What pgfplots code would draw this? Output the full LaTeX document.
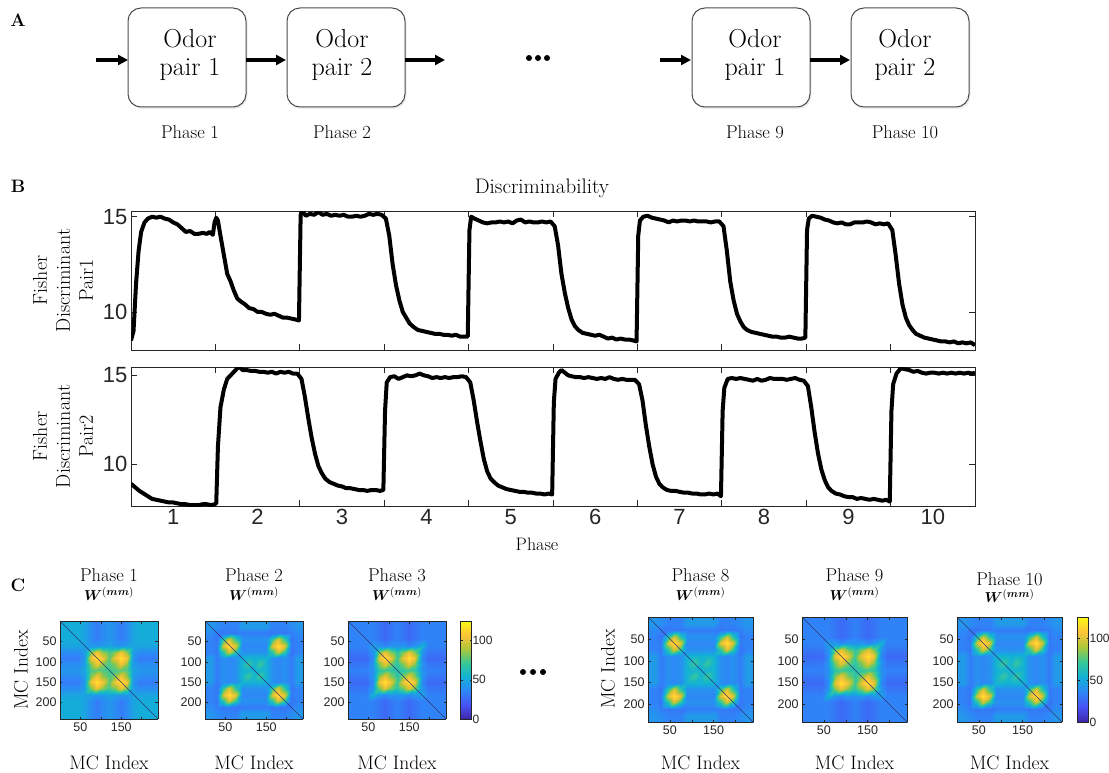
\documentclass[border=0pt]{standalone}
\usepackage{fontspec}
\usepackage{amsmath}
\usepackage{bm}
\usepackage{pgfplots}
\usepackage{pgfplotstable}
\pgfplotsset{compat=1.18}
\usetikzlibrary{arrows.meta,shadows}

\newfontfamily\numfont{Liberation Sans}
\newcommand{\fsz}[2]{\fontsize{#1}{#2}\selectfont}
\definecolor{axgray}{rgb}{0.15,0.15,0.15}
\definecolor{boxgray}{rgb}{0.3,0.3,0.3}
\definecolor{diagc}{rgb}{0.18,0.22,0.45}

\pgfplotsset{
  colormap={parula}{rgb=(0.2422,0.1504,0.6603) rgb=(0.2810,0.3228,0.9579)
    rgb=(0.1786,0.5289,0.9682) rgb=(0.0689,0.6948,0.8394) rgb=(0.2161,0.7843,0.5923)
    rgb=(0.6720,0.7793,0.2227) rgb=(0.9970,0.7659,0.2199) rgb=(0.9769,0.9839,0.0805)},
  /pgf/number format/assume math mode=true,
  fisher/.style={
    scale only axis, width=844pt, height=139pt,
    xmin=0.5, xmax=10.5,
    tick align=inside,
    major tick length=0pt, minor tick length=6pt,
    xtick={1,...,10},
    minor xtick={1.5,2.5,...,9.5},
    ytick={10,15}, minor ytick={10,15},
    tick label style={font=\numfont\fsz{22}{24}, color=axgray},
    axis line style={draw=axgray, line width=0.8pt},
    every tick/.append style={draw=axgray, line width=0.8pt},
  },
  hm/.style={
    scale only axis, width=#1, height=#1,
    view={0}{90},
    xmin=0, xmax=240, ymin=0, ymax=240, y dir=reverse,
    ztick=\empty,
    colormap name=parula, point meta min=0, point meta max=125,
    xtick={50,100,150,200}, xticklabels={50,,150,},
    ytick={50,100,150,200},
    tick align=inside, major tick length=2.5pt,
    tick label style={font=\numfont\fsz{12.5}{14}, color=axgray},
    axis line style={draw=axgray, line width=0.8pt},
    every tick/.append style={draw=axgray, line width=0.5pt},
    axis on top,
  },
  hmbar/.style={
    colorbar,
    colorbar style={
      at={(parent axis.north east)}, anchor=north west, xshift=#1,
      width=11pt,
      ytick={0,50,100},
      tick align=inside, major tick length=2pt,
      yticklabel style={font=\numfont\fsz{12}{14}, color=axgray, xshift=-2.5pt},
      axis line style={draw=axgray, line width=0.6pt},
    },
  },
}

% Fisher discriminant of odor pair 1 over the ten phases
\pgfplotstableread{
x y
0.50 8.5
0.53 9.0
0.56 11.5
0.59 13.2
0.62 14.2
0.66 14.7
0.70 14.9
0.75 15.0
0.80 14.95
0.85 15.0
0.90 14.9
0.95 14.85
1.00 14.7
1.05 14.6
1.10 14.4
1.15 14.2
1.20 14.25
1.25 14.1
1.30 14.1
1.35 14.15
1.40 14.1
1.43 14.2
1.47 14.05
1.49 14.7
1.51 14.95
1.53 14.8
1.56 14.0
1.60 13.0
1.64 12.0
1.68 11.6
1.72 11.1
1.76 10.7
1.80 10.55
1.85 10.4
1.90 10.2
1.95 10.15
2.00 10.0
2.05 10.0
2.10 9.9
2.15 9.85
2.20 9.9
2.25 9.8
2.30 9.7
2.35 9.7
2.40 9.65
2.45 9.6
2.49 9.55
2.51 15.1
2.53 15.3
2.57 15.05
2.62 15.15
2.67 15.1
2.72 15.25
2.77 15.1
2.82 15.15
2.87 15.05
2.92 15.1
2.97 15.05
3.02 15.1
3.07 15.0
3.12 15.0
3.17 15.05
3.22 15.0
3.27 15.05
3.32 15.15
3.37 15.1
3.42 15.15
3.47 15.1
3.52 14.9
3.56 14.0
3.60 12.5
3.64 11.4
3.68 10.6
3.72 10.0
3.76 9.7
3.80 9.4
3.85 9.2
3.90 9.05
3.95 9.0
4.00 8.95
4.05 8.9
4.10 8.85
4.15 8.85
4.20 8.8
4.25 8.8
4.30 8.75
4.35 8.8
4.40 8.7
4.45 8.7
4.49 8.7
4.51 14.3
4.53 15.0
4.57 14.9
4.62 14.8
4.67 14.7
4.72 14.65
4.77 14.7
4.82 14.7
4.87 14.75
4.92 14.7
4.97 14.75
5.02 14.65
5.07 14.8
5.12 14.85
5.17 14.7
5.22 14.75
5.27 14.7
5.32 14.7
5.37 14.75
5.42 14.7
5.47 14.75
5.52 14.5
5.56 13.5
5.60 12.0
5.64 11.0
5.68 10.2
5.72 9.6
5.76 9.25
5.80 9.05
5.85 8.9
5.90 8.85
5.95 8.8
6.00 8.75
6.05 8.8
6.10 8.7
6.15 8.6
6.20 8.65
6.25 8.55
6.30 8.6
6.35 8.55
6.40 8.55
6.45 8.5
6.49 8.45
6.51 14.0
6.53 14.8
6.57 15.0
6.62 15.05
6.67 14.95
6.72 14.9
6.77 14.85
6.82 14.8
6.87 14.7
6.92 14.8
6.97 14.75
7.02 14.8
7.07 14.8
7.12 14.75
7.17 14.8
7.22 14.75
7.27 14.75
7.32 14.75
7.37 14.7
7.42 14.75
7.47 14.75
7.52 14.5
7.56 13.2
7.60 11.6
7.64 10.6
7.68 9.9
7.72 9.5
7.76 9.2
7.80 9.05
7.85 8.95
7.90 8.9
7.95 8.85
8.00 8.8
8.05 8.75
8.10 8.7
8.15 8.7
8.20 8.65
8.25 8.65
8.30 8.7
8.35 8.65
8.40 8.6
8.45 8.6
8.49 8.65
8.51 14.3
8.53 14.9
8.57 15.05
8.62 15.0
8.67 14.95
8.72 14.85
8.77 14.8
8.82 14.7
8.87 14.65
8.92 14.7
8.97 14.6
9.02 14.6
9.07 14.7
9.12 14.7
9.17 14.7
9.22 14.75
9.27 14.7
9.32 14.6
9.37 14.65
9.42 14.6
9.47 14.65
9.52 14.3
9.56 13.0
9.60 11.5
9.64 10.4
9.68 9.7
9.72 9.3
9.76 9.05
9.80 8.85
9.85 8.75
9.90 8.65
9.95 8.6
10.00 8.55
10.05 8.5
10.10 8.45
10.15 8.45
10.20 8.4
10.25 8.45
10.30 8.35
10.35 8.4
10.40 8.35
10.45 8.4
10.50 8.25
}\pairone

% Fisher discriminant of odor pair 2 over the ten phases
\pgfplotstableread{
x y
0.50 8.9
0.55 8.7
0.60 8.5
0.65 8.35
0.70 8.2
0.75 8.05
0.80 8.0
0.85 7.95
0.90 7.9
0.95 7.85
1.00 7.85
1.05 7.8
1.10 7.75
1.15 7.75
1.20 7.7
1.25 7.7
1.30 7.7
1.35 7.75
1.40 7.75
1.45 7.7
1.49 7.75
1.51 7.8
1.53 11.0
1.56 13.2
1.60 14.2
1.64 14.8
1.68 15.0
1.72 15.2
1.76 15.4
1.78 15.5
1.82 15.3
1.87 15.3
1.92 15.25
1.97 15.25
2.02 15.2
2.07 15.2
2.12 15.15
2.17 15.2
2.22 15.1
2.27 15.2
2.32 15.15
2.37 15.2
2.42 15.1
2.47 15.1
2.52 14.8
2.56 13.8
2.60 12.6
2.64 11.5
2.68 10.6
2.72 9.9
2.76 9.5
2.80 9.2
2.85 9.0
2.90 8.9
2.95 8.8
3.00 8.75
3.05 8.65
3.10 8.65
3.15 8.6
3.20 8.55
3.25 8.55
3.30 8.5
3.35 8.55
3.40 8.55
3.45 8.5
3.49 8.55
3.51 13.0
3.53 14.6
3.57 14.9
3.62 14.95
3.67 14.8
3.72 14.9
3.77 15.0
3.82 14.95
3.87 15.0
3.92 15.1
3.97 15.0
4.02 14.95
4.07 14.85
4.12 14.9
4.17 14.85
4.22 14.9
4.27 14.85
4.32 14.9
4.37 14.9
4.42 14.95
4.47 14.9
4.52 14.6
4.56 13.6
4.60 12.4
4.64 11.3
4.68 10.3
4.72 9.6
4.76 9.2
4.80 9.0
4.85 8.8
4.90 8.7
4.95 8.6
5.00 8.55
5.05 8.5
5.10 8.45
5.15 8.45
5.20 8.4
5.25 8.4
5.30 8.35
5.35 8.35
5.40 8.3
5.45 8.35
5.49 8.3
5.51 13.5
5.53 14.8
5.57 15.15
5.60 15.3
5.64 15.15
5.68 15.0
5.72 14.95
5.77 14.9
5.82 14.9
5.87 14.85
5.92 14.9
5.97 14.85
6.02 14.8
6.07 14.85
6.12 14.8
6.17 14.9
6.22 14.8
6.27 14.75
6.32 14.8
6.37 14.75
6.42 14.75
6.47 14.75
6.52 14.5
6.56 13.6
6.60 12.2
6.64 11.0
6.68 10.0
6.72 9.3
6.76 8.9
6.80 8.7
6.85 8.55
6.90 8.5
6.95 8.5
7.00 8.45
7.05 8.4
7.10 8.4
7.15 8.35
7.20 8.35
7.25 8.3
7.30 8.3
7.35 8.35
7.40 8.3
7.45 8.35
7.49 8.2
7.51 13.0
7.53 14.3
7.57 14.8
7.62 14.85
7.67 14.8
7.72 14.85
7.77 14.8
7.82 14.75
7.87 14.7
7.92 14.8
7.97 14.7
8.02 14.75
8.07 14.85
8.12 14.8
8.17 14.8
8.22 14.8
8.27 14.75
8.32 14.8
8.37 14.85
8.42 14.75
8.47 14.7
8.52 14.4
8.56 13.2
8.60 11.8
8.64 10.6
8.68 9.7
8.72 9.1
8.76 8.7
8.80 8.5
8.85 8.35
8.90 8.3
8.95 8.2
9.00 8.15
9.05 8.15
9.10 8.05
9.15 8.1
9.20 8.05
9.25 8.0
9.30 8.05
9.35 8.0
9.40 7.95
9.45 8.0
9.49 7.9
9.51 13.0
9.53 14.5
9.57 15.1
9.62 15.4
9.67 15.35
9.72 15.3
9.77 15.2
9.82 15.25
9.87 15.15
9.92 15.1
9.97 15.15
10.02 15.15
10.07 15.1
10.12 15.15
10.17 15.1
10.22 15.15
10.27 15.1
10.32 15.15
10.37 15.1
10.42 15.15
10.47 15.1
10.50 15.15
}\pairtwo

% W^(mm) weights, sampled every 15 mitral cells (phase 1)
\pgfplotstableread[row sep=\\]{
x y c\\
0 0 52\\ 15 0 52\\ 30 0 52\\ 45 0 52\\ 60 0 48\\ 75 0 38\\ 90 0 32\\ 105 0 38\\ 120 0 42\\ 135 0 38\\ 150 0 32\\ 165 0 38\\ 180 0 48\\ 195 0 52\\ 210 0 52\\ 225 0 52\\ 240 0 52\\
0 15 52\\ 15 15 52\\ 30 15 52\\ 45 15 52\\ 60 15 48\\ 75 15 38\\ 90 15 32\\ 105 15 38\\ 120 15 42\\ 135 15 38\\ 150 15 32\\ 165 15 38\\ 180 15 48\\ 195 15 52\\ 210 15 52\\ 225 15 52\\ 240 15 52\\
0 30 52\\ 15 30 52\\ 30 30 52\\ 45 30 52\\ 60 30 48\\ 75 30 38\\ 90 30 32\\ 105 30 38\\ 120 30 42\\ 135 30 38\\ 150 30 32\\ 165 30 38\\ 180 30 48\\ 195 30 52\\ 210 30 52\\ 225 30 52\\ 240 30 52\\
0 45 52\\ 15 45 52\\ 30 45 52\\ 45 45 52\\ 60 45 48\\ 75 45 38\\ 90 45 32\\ 105 45 38\\ 120 45 42\\ 135 45 38\\ 150 45 32\\ 165 45 38\\ 180 45 48\\ 195 45 52\\ 210 45 52\\ 225 45 52\\ 240 45 52\\
0 60 48\\ 15 60 48\\ 30 60 48\\ 45 60 48\\ 60 60 48\\ 75 60 44\\ 90 60 42\\ 105 60 44\\ 120 60 48\\ 135 60 44\\ 150 60 42\\ 165 60 44\\ 180 60 48\\ 195 60 48\\ 210 60 48\\ 225 60 48\\ 240 60 48\\
0 75 38\\ 15 75 38\\ 30 75 38\\ 45 75 38\\ 60 75 44\\ 75 75 84\\ 90 75 104\\ 105 75 84\\ 120 75 74\\ 135 75 84\\ 150 75 104\\ 165 75 84\\ 180 75 44\\ 195 75 38\\ 210 75 38\\ 225 75 38\\ 240 75 38\\
0 90 32\\ 15 90 32\\ 30 90 32\\ 45 90 32\\ 60 90 42\\ 75 90 104\\ 90 90 118\\ 105 90 104\\ 120 90 78\\ 135 90 104\\ 150 90 118\\ 165 90 104\\ 180 90 42\\ 195 90 32\\ 210 90 32\\ 225 90 32\\ 240 90 32\\
0 105 38\\ 15 105 38\\ 30 105 38\\ 45 105 38\\ 60 105 44\\ 75 105 84\\ 90 105 104\\ 105 105 84\\ 120 105 74\\ 135 105 84\\ 150 105 104\\ 165 105 84\\ 180 105 44\\ 195 105 38\\ 210 105 38\\ 225 105 38\\ 240 105 38\\
0 120 42\\ 15 120 42\\ 30 120 42\\ 45 120 42\\ 60 120 48\\ 75 120 74\\ 90 120 78\\ 105 120 74\\ 120 120 72\\ 135 120 74\\ 150 120 78\\ 165 120 74\\ 180 120 48\\ 195 120 42\\ 210 120 42\\ 225 120 42\\ 240 120 42\\
0 135 38\\ 15 135 38\\ 30 135 38\\ 45 135 38\\ 60 135 44\\ 75 135 84\\ 90 135 104\\ 105 135 84\\ 120 135 74\\ 135 135 84\\ 150 135 104\\ 165 135 84\\ 180 135 44\\ 195 135 38\\ 210 135 38\\ 225 135 38\\ 240 135 38\\
0 150 32\\ 15 150 32\\ 30 150 32\\ 45 150 32\\ 60 150 42\\ 75 150 104\\ 90 150 118\\ 105 150 104\\ 120 150 78\\ 135 150 104\\ 150 150 118\\ 165 150 104\\ 180 150 42\\ 195 150 32\\ 210 150 32\\ 225 150 32\\ 240 150 32\\
0 165 38\\ 15 165 38\\ 30 165 38\\ 45 165 38\\ 60 165 44\\ 75 165 84\\ 90 165 104\\ 105 165 84\\ 120 165 74\\ 135 165 84\\ 150 165 104\\ 165 165 84\\ 180 165 44\\ 195 165 38\\ 210 165 38\\ 225 165 38\\ 240 165 38\\
0 180 48\\ 15 180 48\\ 30 180 48\\ 45 180 48\\ 60 180 48\\ 75 180 44\\ 90 180 42\\ 105 180 44\\ 120 180 48\\ 135 180 44\\ 150 180 42\\ 165 180 44\\ 180 180 48\\ 195 180 48\\ 210 180 48\\ 225 180 48\\ 240 180 48\\
0 195 52\\ 15 195 52\\ 30 195 52\\ 45 195 52\\ 60 195 48\\ 75 195 38\\ 90 195 32\\ 105 195 38\\ 120 195 42\\ 135 195 38\\ 150 195 32\\ 165 195 38\\ 180 195 48\\ 195 195 52\\ 210 195 52\\ 225 195 52\\ 240 195 52\\
0 210 52\\ 15 210 52\\ 30 210 52\\ 45 210 52\\ 60 210 48\\ 75 210 38\\ 90 210 32\\ 105 210 38\\ 120 210 42\\ 135 210 38\\ 150 210 32\\ 165 210 38\\ 180 210 48\\ 195 210 52\\ 210 210 52\\ 225 210 52\\ 240 210 52\\
0 225 52\\ 15 225 52\\ 30 225 52\\ 45 225 52\\ 60 225 48\\ 75 225 38\\ 90 225 32\\ 105 225 38\\ 120 225 42\\ 135 225 38\\ 150 225 32\\ 165 225 38\\ 180 225 48\\ 195 225 52\\ 210 225 52\\ 225 225 52\\ 240 225 52\\
0 240 52\\ 15 240 52\\ 30 240 52\\ 45 240 52\\ 60 240 48\\ 75 240 38\\ 90 240 32\\ 105 240 38\\ 120 240 42\\ 135 240 38\\ 150 240 32\\ 165 240 38\\ 180 240 48\\ 195 240 52\\ 210 240 52\\ 225 240 52\\ 240 240 52\\
}\wone

% W^(mm) weights after learning odor pair 2 (phases 2, 8, 10)
\pgfplotstableread[row sep=\\]{
x y c\\
0 0 42\\ 15 0 42\\ 30 0 38\\ 45 0 34\\ 60 0 34\\ 75 0 34\\ 90 0 44\\ 105 0 44\\ 120 0 44\\ 135 0 44\\ 150 0 44\\ 165 0 34\\ 180 0 34\\ 195 0 34\\ 210 0 38\\ 225 0 42\\ 240 0 42\\
0 15 42\\ 15 15 42\\ 30 15 38\\ 45 15 34\\ 60 15 34\\ 75 15 34\\ 90 15 44\\ 105 15 44\\ 120 15 44\\ 135 15 44\\ 150 15 44\\ 165 15 34\\ 180 15 34\\ 195 15 34\\ 210 15 38\\ 225 15 42\\ 240 15 42\\
0 30 38\\ 15 30 38\\ 30 30 32\\ 45 30 30\\ 60 30 32\\ 75 30 30\\ 90 30 32\\ 105 30 32\\ 120 30 32\\ 135 30 32\\ 150 30 32\\ 165 30 30\\ 180 30 32\\ 195 30 30\\ 210 30 32\\ 225 30 38\\ 240 30 38\\
0 45 34\\ 15 45 34\\ 30 45 30\\ 45 45 66\\ 60 45 98\\ 75 45 66\\ 90 45 40\\ 105 45 40\\ 120 45 40\\ 135 45 40\\ 150 45 40\\ 165 45 66\\ 180 45 98\\ 195 45 66\\ 210 45 30\\ 225 45 34\\ 240 45 34\\
0 60 34\\ 15 60 34\\ 30 60 32\\ 45 60 98\\ 60 60 118\\ 75 60 98\\ 90 60 36\\ 105 60 36\\ 120 60 36\\ 135 60 36\\ 150 60 36\\ 165 60 98\\ 180 60 118\\ 195 60 98\\ 210 60 32\\ 225 60 34\\ 240 60 34\\
0 75 34\\ 15 75 34\\ 30 75 30\\ 45 75 66\\ 60 75 98\\ 75 75 66\\ 90 75 40\\ 105 75 40\\ 120 75 40\\ 135 75 40\\ 150 75 40\\ 165 75 66\\ 180 75 98\\ 195 75 66\\ 210 75 30\\ 225 75 34\\ 240 75 34\\
0 90 44\\ 15 90 44\\ 30 90 32\\ 45 90 40\\ 60 90 36\\ 75 90 40\\ 90 90 54\\ 105 90 56\\ 120 90 54\\ 135 90 56\\ 150 90 54\\ 165 90 40\\ 180 90 36\\ 195 90 40\\ 210 90 32\\ 225 90 44\\ 240 90 44\\
0 105 44\\ 15 105 44\\ 30 105 32\\ 45 105 40\\ 60 105 36\\ 75 105 40\\ 90 105 56\\ 105 105 70\\ 120 105 56\\ 135 105 70\\ 150 105 56\\ 165 105 40\\ 180 105 36\\ 195 105 40\\ 210 105 32\\ 225 105 44\\ 240 105 44\\
0 120 44\\ 15 120 44\\ 30 120 32\\ 45 120 40\\ 60 120 36\\ 75 120 40\\ 90 120 54\\ 105 120 56\\ 120 120 54\\ 135 120 56\\ 150 120 54\\ 165 120 40\\ 180 120 36\\ 195 120 40\\ 210 120 32\\ 225 120 44\\ 240 120 44\\
0 135 44\\ 15 135 44\\ 30 135 32\\ 45 135 40\\ 60 135 36\\ 75 135 40\\ 90 135 56\\ 105 135 70\\ 120 135 56\\ 135 135 70\\ 150 135 56\\ 165 135 40\\ 180 135 36\\ 195 135 40\\ 210 135 32\\ 225 135 44\\ 240 135 44\\
0 150 44\\ 15 150 44\\ 30 150 32\\ 45 150 40\\ 60 150 36\\ 75 150 40\\ 90 150 54\\ 105 150 56\\ 120 150 54\\ 135 150 56\\ 150 150 54\\ 165 150 40\\ 180 150 36\\ 195 150 40\\ 210 150 32\\ 225 150 44\\ 240 150 44\\
0 165 34\\ 15 165 34\\ 30 165 30\\ 45 165 66\\ 60 165 98\\ 75 165 66\\ 90 165 40\\ 105 165 40\\ 120 165 40\\ 135 165 40\\ 150 165 40\\ 165 165 66\\ 180 165 98\\ 195 165 66\\ 210 165 30\\ 225 165 34\\ 240 165 34\\
0 180 34\\ 15 180 34\\ 30 180 32\\ 45 180 98\\ 60 180 118\\ 75 180 98\\ 90 180 36\\ 105 180 36\\ 120 180 36\\ 135 180 36\\ 150 180 36\\ 165 180 98\\ 180 180 118\\ 195 180 98\\ 210 180 32\\ 225 180 34\\ 240 180 34\\
0 195 34\\ 15 195 34\\ 30 195 30\\ 45 195 66\\ 60 195 98\\ 75 195 66\\ 90 195 40\\ 105 195 40\\ 120 195 40\\ 135 195 40\\ 150 195 40\\ 165 195 66\\ 180 195 98\\ 195 195 66\\ 210 195 30\\ 225 195 34\\ 240 195 34\\
0 210 38\\ 15 210 38\\ 30 210 32\\ 45 210 30\\ 60 210 32\\ 75 210 30\\ 90 210 32\\ 105 210 32\\ 120 210 32\\ 135 210 32\\ 150 210 32\\ 165 210 30\\ 180 210 32\\ 195 210 30\\ 210 210 32\\ 225 210 38\\ 240 210 38\\
0 225 42\\ 15 225 42\\ 30 225 38\\ 45 225 34\\ 60 225 34\\ 75 225 34\\ 90 225 44\\ 105 225 44\\ 120 225 44\\ 135 225 44\\ 150 225 44\\ 165 225 34\\ 180 225 34\\ 195 225 34\\ 210 225 38\\ 225 225 42\\ 240 225 42\\
0 240 42\\ 15 240 42\\ 30 240 38\\ 45 240 34\\ 60 240 34\\ 75 240 34\\ 90 240 44\\ 105 240 44\\ 120 240 44\\ 135 240 44\\ 150 240 44\\ 165 240 34\\ 180 240 34\\ 195 240 34\\ 210 240 38\\ 225 240 42\\ 240 240 42\\
}\wtwo

% W^(mm) weights after relearning odor pair 1 (phases 3, 9)
\pgfplotstableread[row sep=\\]{
x y c\\
0 0 34\\ 15 0 34\\ 30 0 34\\ 45 0 34\\ 60 0 34\\ 75 0 30\\ 90 0 26\\ 105 0 30\\ 120 0 34\\ 135 0 30\\ 150 0 26\\ 165 0 30\\ 180 0 34\\ 195 0 34\\ 210 0 34\\ 225 0 34\\ 240 0 34\\
0 15 34\\ 15 15 34\\ 30 15 34\\ 45 15 34\\ 60 15 34\\ 75 15 30\\ 90 15 26\\ 105 15 30\\ 120 15 34\\ 135 15 30\\ 150 15 26\\ 165 15 30\\ 180 15 34\\ 195 15 34\\ 210 15 34\\ 225 15 34\\ 240 15 34\\
0 30 34\\ 15 30 34\\ 30 30 34\\ 45 30 34\\ 60 30 34\\ 75 30 30\\ 90 30 26\\ 105 30 30\\ 120 30 34\\ 135 30 30\\ 150 30 26\\ 165 30 30\\ 180 30 34\\ 195 30 34\\ 210 30 34\\ 225 30 34\\ 240 30 34\\
0 45 34\\ 15 45 34\\ 30 45 34\\ 45 45 34\\ 60 45 34\\ 75 45 30\\ 90 45 26\\ 105 45 30\\ 120 45 34\\ 135 45 30\\ 150 45 26\\ 165 45 30\\ 180 45 34\\ 195 45 34\\ 210 45 34\\ 225 45 34\\ 240 45 34\\
0 60 34\\ 15 60 34\\ 30 60 34\\ 45 60 34\\ 60 60 46\\ 75 60 42\\ 90 60 36\\ 105 60 42\\ 120 60 40\\ 135 60 42\\ 150 60 36\\ 165 60 42\\ 180 60 54\\ 195 60 34\\ 210 60 34\\ 225 60 34\\ 240 60 34\\
0 75 30\\ 15 75 30\\ 30 75 30\\ 45 75 30\\ 60 75 42\\ 75 75 82\\ 90 75 102\\ 105 75 82\\ 120 75 68\\ 135 75 82\\ 150 75 102\\ 165 75 82\\ 180 75 42\\ 195 75 30\\ 210 75 30\\ 225 75 30\\ 240 75 30\\
0 90 26\\ 15 90 26\\ 30 90 26\\ 45 90 26\\ 60 90 36\\ 75 90 102\\ 90 90 118\\ 105 90 102\\ 120 90 72\\ 135 90 102\\ 150 90 118\\ 165 90 102\\ 180 90 36\\ 195 90 26\\ 210 90 26\\ 225 90 26\\ 240 90 26\\
0 105 30\\ 15 105 30\\ 30 105 30\\ 45 105 30\\ 60 105 42\\ 75 105 82\\ 90 105 102\\ 105 105 82\\ 120 105 68\\ 135 105 82\\ 150 105 102\\ 165 105 82\\ 180 105 42\\ 195 105 30\\ 210 105 30\\ 225 105 30\\ 240 105 30\\
0 120 34\\ 15 120 34\\ 30 120 34\\ 45 120 34\\ 60 120 40\\ 75 120 68\\ 90 120 72\\ 105 120 68\\ 120 120 66\\ 135 120 68\\ 150 120 72\\ 165 120 68\\ 180 120 40\\ 195 120 34\\ 210 120 34\\ 225 120 34\\ 240 120 34\\
0 135 30\\ 15 135 30\\ 30 135 30\\ 45 135 30\\ 60 135 42\\ 75 135 82\\ 90 135 102\\ 105 135 82\\ 120 135 68\\ 135 135 82\\ 150 135 102\\ 165 135 82\\ 180 135 42\\ 195 135 30\\ 210 135 30\\ 225 135 30\\ 240 135 30\\
0 150 26\\ 15 150 26\\ 30 150 26\\ 45 150 26\\ 60 150 36\\ 75 150 102\\ 90 150 118\\ 105 150 102\\ 120 150 72\\ 135 150 102\\ 150 150 118\\ 165 150 102\\ 180 150 36\\ 195 150 26\\ 210 150 26\\ 225 150 26\\ 240 150 26\\
0 165 30\\ 15 165 30\\ 30 165 30\\ 45 165 30\\ 60 165 42\\ 75 165 82\\ 90 165 102\\ 105 165 82\\ 120 165 68\\ 135 165 82\\ 150 165 102\\ 165 165 82\\ 180 165 42\\ 195 165 30\\ 210 165 30\\ 225 165 30\\ 240 165 30\\
0 180 34\\ 15 180 34\\ 30 180 34\\ 45 180 34\\ 60 180 54\\ 75 180 42\\ 90 180 36\\ 105 180 42\\ 120 180 40\\ 135 180 42\\ 150 180 36\\ 165 180 42\\ 180 180 46\\ 195 180 34\\ 210 180 34\\ 225 180 34\\ 240 180 34\\
0 195 34\\ 15 195 34\\ 30 195 34\\ 45 195 34\\ 60 195 34\\ 75 195 30\\ 90 195 26\\ 105 195 30\\ 120 195 34\\ 135 195 30\\ 150 195 26\\ 165 195 30\\ 180 195 34\\ 195 195 34\\ 210 195 34\\ 225 195 34\\ 240 195 34\\
0 210 34\\ 15 210 34\\ 30 210 34\\ 45 210 34\\ 60 210 34\\ 75 210 30\\ 90 210 26\\ 105 210 30\\ 120 210 34\\ 135 210 30\\ 150 210 26\\ 165 210 30\\ 180 210 34\\ 195 210 34\\ 210 210 34\\ 225 210 34\\ 240 210 34\\
0 225 34\\ 15 225 34\\ 30 225 34\\ 45 225 34\\ 60 225 34\\ 75 225 30\\ 90 225 26\\ 105 225 30\\ 120 225 34\\ 135 225 30\\ 150 225 26\\ 165 225 30\\ 180 225 34\\ 195 225 34\\ 210 225 34\\ 225 225 34\\ 240 225 34\\
0 240 34\\ 15 240 34\\ 30 240 34\\ 45 240 34\\ 60 240 34\\ 75 240 30\\ 90 240 26\\ 105 240 30\\ 120 240 34\\ 135 240 30\\ 150 240 26\\ 165 240 30\\ 180 240 34\\ 195 240 34\\ 210 240 34\\ 225 240 34\\ 240 240 34\\
}\wthree

\tikzset{
  obox/.style={draw=boxgray, line width=1pt, rounded corners=13pt, fill=white,
    minimum width=118pt, minimum height=99pt, inner sep=0pt,
    drop shadow={shadow xshift=1.5pt, shadow yshift=-2pt, opacity=0.15}},
  otext/.style={align=center, font=\fsz{26}{28}},
  flow/.style={-{Triangle[length=10pt,width=10pt]}, line width=3.2pt},
  panel/.style={font=\bfseries\fsz{18}{20}},
}

\newcommand{\wmm}{$\bm{W}^{(\bm{mm})}$}

\begin{document}
\begin{tikzpicture}
\useasboundingbox (0pt,0pt) rectangle (1109pt,-773pt);

% ---------- A: training schedule ----------
\node[panel] at (18pt,-20pt) {A};
\foreach \cx/\tx/\lbl/\ph in {187/190/1/1, 346/342/2/2, 751/755/1/9, 910/905/2/10}{
  \node[obox] at (\cx pt,-57.5pt) {};
  \node[otext] at (\tx pt,-55pt) {Odor\\pair \lbl};
  \node[font=\fsz{18.5}{20}] at (\tx pt,-132pt) {Phase \ph};
}
\draw[flow] (96pt,-60pt) -- (128pt,-60pt);
\draw[flow] (246pt,-60pt) -- (286pt,-60pt);
\draw[flow] (405pt,-60pt) -- (445pt,-60pt);
\draw[flow] (660pt,-60pt) -- (691pt,-60pt);
\draw[flow] (810pt,-60pt) -- (850pt,-60pt);
\foreach \dx in {529,538,547} \fill (\dx pt,-58pt) circle (3pt);

% ---------- B: discriminability ----------
\node[panel] at (18pt,-186pt) {B};
\node[font=\fsz{21}{23}] at (542pt,-188pt) {Discriminability};

\begin{axis}[fisher, at={(131pt,-211pt)}, anchor=north west,
  ymin=8, ymax=15.3, xticklabels={}]
  \addplot[black, no marks, line width=4pt, line join=round] table[x=x,y=y] {\pairone};
\end{axis}
\node[rotate=90, align=center, font=\fsz{20}{23}] at (63pt,-280.5pt) {Fisher\\Discriminant\\Pair1};

\begin{axis}[fisher, at={(131pt,-367pt)}, anchor=north west,
  ymin=7.65, ymax=15.47]
  \addplot[black, no marks, line width=4pt, line join=round] table[x=x,y=y] {\pairtwo};
\end{axis}
\node[rotate=90, align=center, font=\fsz{20}{23}] at (63pt,-436.5pt) {Fisher\\Discriminant\\Pair2};
\node[font=\fsz{18}{20}] at (537pt,-544pt) {Phase};

% ---------- C: mitral-mitral weights ----------
\node[panel] at (18pt,-585pt) {C};

\begin{axis}[hm=98pt, at={(60pt,-621pt)}, anchor=north west]
  \addplot3[surf, shader=interp, mesh/cols=17] table[x=x,y=y,z=c] {\wone};
  \addplot3[diagc, no marks, line width=0.6pt] coordinates {(0,0,130) (240,240,130)};
\end{axis}
\begin{axis}[hm=98pt, at={(205pt,-621pt)}, anchor=north west]
  \addplot3[surf, shader=interp, mesh/cols=17] table[x=x,y=y,z=c] {\wtwo};
  \addplot3[diagc, no marks, line width=0.6pt] coordinates {(0,0,130) (240,240,130)};
\end{axis}
\begin{axis}[hm=98pt, hmbar=6pt, at={(348pt,-621pt)}, anchor=north west]
  \addplot3[surf, shader=interp, mesh/cols=17] table[x=x,y=y,z=c] {\wthree};
  \addplot3[diagc, no marks, line width=0.6pt] coordinates {(0,0,130) (240,240,130)};
\end{axis}

\begin{axis}[hm=105pt, at={(648pt,-617pt)}, anchor=north west]
  \addplot3[surf, shader=interp, mesh/cols=17] table[x=x,y=y,z=c] {\wtwo};
  \addplot3[diagc, no marks, line width=0.6pt] coordinates {(0,0,130) (240,240,130)};
\end{axis}
\begin{axis}[hm=105pt, at={(802pt,-617pt)}, anchor=north west]
  \addplot3[surf, shader=interp, mesh/cols=17] table[x=x,y=y,z=c] {\wthree};
  \addplot3[diagc, no marks, line width=0.6pt] coordinates {(0,0,130) (240,240,130)};
\end{axis}
\begin{axis}[hm=105pt, hmbar=7pt, at={(957pt,-617pt)}, anchor=north west]
  \addplot3[surf, shader=interp, mesh/cols=17] table[x=x,y=y,z=c] {\wtwo};
  \addplot3[diagc, no marks, line width=0.6pt] coordinates {(0,0,130) (240,240,130)};
\end{axis}

\foreach \cx/\ph in {109/1, 254/2, 397/3, 700.5/8, 854.5/9}{
  \node[font=\fsz{18.5}{20}] at (\cx pt,-575pt) {Phase \ph};
  \node[font=\fsz{15.5}{17}] at (\cx pt,-594pt) {\wmm};
}
\node[font=\fsz{18.5}{20}] at (1009.5pt,-579pt) {Phase 10};
\node[font=\fsz{15.5}{17}] at (1009.5pt,-596pt) {\wmm};

\foreach \cx in {109,254,397,700.5,854.5,1009.5}
  \node[font=\fsz{19.5}{21}] at (\cx pt,-763pt) {MC Index};
\node[rotate=90, font=\fsz{19.5}{21}] at (21pt,-670pt) {MC Index};
\node[rotate=90, font=\fsz{19.5}{21}] at (608pt,-669pt) {MC Index};
\foreach \dx in {523,533,543} \fill (\dx pt,-672pt) circle (3pt);
\end{tikzpicture}
\end{document}
